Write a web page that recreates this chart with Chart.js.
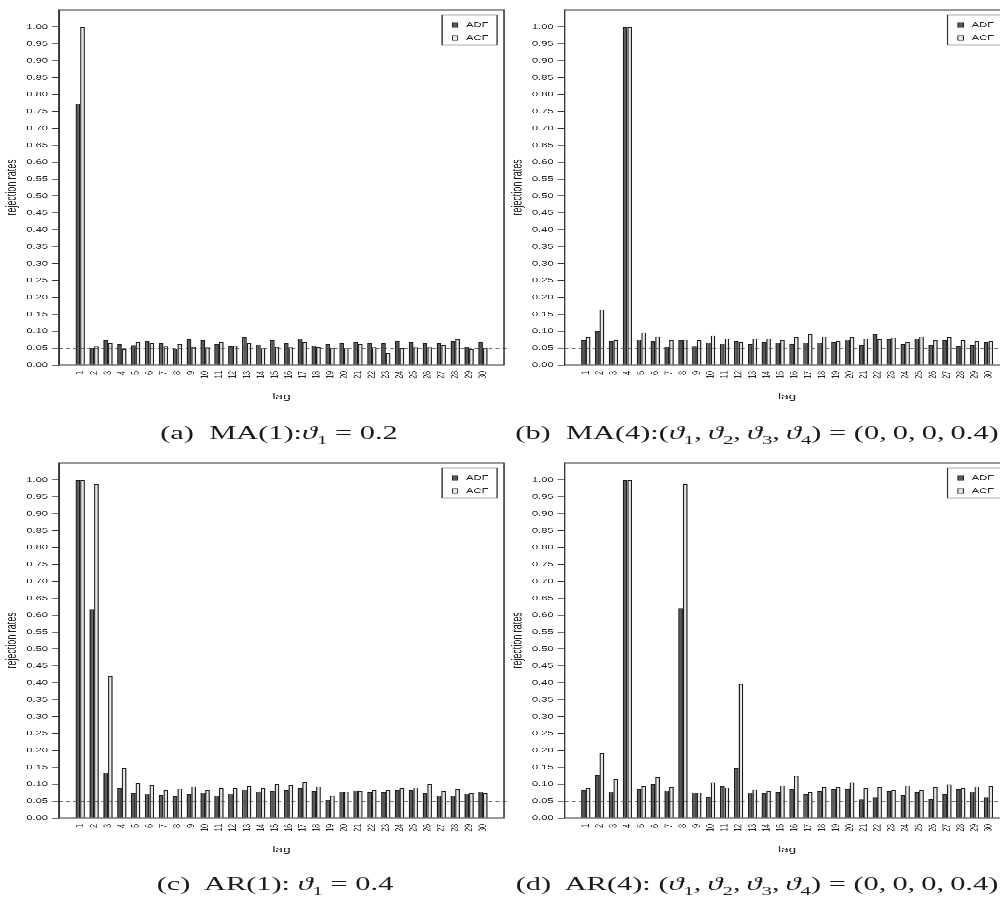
<!DOCTYPE html>
<html><head><meta charset="utf-8">
<script src="https://cdn.jsdelivr.net/npm/chart.js@4.4.0/dist/chart.umd.min.js"></script>
<style>
html,body{margin:0;padding:0;background:#fff;overflow:hidden;width:1000px;height:905px;}
#page{position:absolute;left:0;top:0;width:625px;height:905px;transform-origin:0 0;}
.cap{position:absolute;white-space:nowrap;font-family:"Liberation Serif","DejaVu Serif",serif;font-size:19px;line-height:22px;color:#1a1a1a;transform:translateX(-50%);}
.cap sub{font-size:13px;line-height:0;}
canvas{position:absolute;}
</style></head><body>
<div id="page"></div>
<script>
// ---- data ----
const lags = [1,2,3,4,5,6,7,8,9,10,11,12,13,14,15,16,17,18,19,20,21,22,23,24,25,26,27,28,29,30];
const yTicks = [0,0.05,0.10,0.15,0.20,0.25,0.30,0.35,0.40,0.45,0.50,0.55,0.60,0.65,0.70,0.75,0.80,0.85,0.90,0.95,1.00];
const seriesNames = ['ADF','ACF'];
const refLevel = 0.05;

const ma1Adf = [0.773,0.051,0.073,0.062,0.058,0.070,0.065,0.048,0.076,0.073,0.062,0.056,0.082,0.060,0.074,0.064,0.078,0.057,0.062,0.065,0.068,0.065,0.065,0.070,0.067,0.065,0.064,0.071,0.054,0.068];
const ma1Acf = [1.000,0.055,0.064,0.047,0.068,0.064,0.055,0.062,0.054,0.052,0.067,0.057,0.065,0.049,0.054,0.052,0.068,0.053,0.051,0.049,0.062,0.052,0.036,0.050,0.052,0.052,0.059,0.076,0.047,0.051];

const ma4Adf = [0.074,0.100,0.071,1.000,0.075,0.071,0.054,0.073,0.055,0.066,0.063,0.071,0.062,0.068,0.066,0.062,0.066,0.066,0.068,0.075,0.059,0.091,0.076,0.062,0.078,0.059,0.074,0.056,0.059,0.068];
const ma4Acf = [0.083,0.164,0.073,1.000,0.096,0.084,0.073,0.075,0.073,0.087,0.078,0.068,0.078,0.078,0.073,0.082,0.092,0.084,0.070,0.083,0.078,0.077,0.081,0.068,0.084,0.074,0.082,0.073,0.071,0.071];

const ar1Adf = [1.000,0.617,0.134,0.089,0.074,0.072,0.068,0.065,0.070,0.075,0.066,0.072,0.084,0.078,0.080,0.082,0.088,0.079,0.054,0.078,0.081,0.076,0.076,0.082,0.082,0.073,0.066,0.066,0.072,0.078];
const ar1Acf = [1.000,0.988,0.420,0.148,0.104,0.098,0.082,0.087,0.093,0.083,0.088,0.088,0.095,0.089,0.101,0.098,0.106,0.093,0.066,0.078,0.079,0.083,0.082,0.088,0.090,0.100,0.079,0.086,0.074,0.074];

const ar4Adf = [0.082,0.127,0.078,1.000,0.086,0.101,0.081,0.620,0.075,0.062,0.094,0.147,0.075,0.073,0.076,0.085,0.070,0.079,0.085,0.086,0.055,0.061,0.079,0.068,0.076,0.056,0.071,0.085,0.078,0.061];
const ar4Acf = [0.089,0.192,0.115,1.000,0.095,0.121,0.092,0.988,0.075,0.105,0.090,0.397,0.084,0.079,0.096,0.125,0.077,0.091,0.091,0.105,0.089,0.092,0.082,0.096,0.082,0.092,0.099,0.088,0.093,0.094];

const captions = [
  '(a)&nbsp; MA(1):<i>ϑ</i><sub>1</sub> = 0.2',
  '(b)&nbsp; MA(4):(<i>ϑ</i><sub>1</sub>,&thinsp;<i>ϑ</i><sub>2</sub>,&thinsp;<i>ϑ</i><sub>3</sub>,&thinsp;<i>ϑ</i><sub>4</sub>) = (0,&thinsp;0,&thinsp;0,&thinsp;0.4)',
  '(c)&nbsp; AR(1): <i>ϑ</i><sub>1</sub> = 0.4',
  '(d)&nbsp; AR(4): (<i>ϑ</i><sub>1</sub>,&thinsp;<i>ϑ</i><sub>2</sub>,&thinsp;<i>ϑ</i><sub>3</sub>,&thinsp;<i>ϑ</i><sub>4</sub>) = (0,&thinsp;0,&thinsp;0,&thinsp;0.4)'
];

// ---- layout (horizontal stretch of the original figure) ----
const S = 1.6;
const page = document.getElementById('page');
page.style.transform = 'scaleX(' + S + ')';

const panels = [
  {adf: ma1Adf, acf: ma1Acf, left: 0,   top: 0,   capX: 279, capY: 422},
  {adf: ma4Adf, acf: ma4Acf, left: 505, top: 0,   capX: 757, capY: 422},
  {adf: ar1Adf, acf: ar1Acf, left: 0,   top: 453, capX: 275, capY: 873},
  {adf: ar4Adf, acf: ar4Acf, left: 505, top: 453, capX: 757, capY: 873}
];

const colors = {adf: '#595959', acf: '#e6e6e6', edge: '#1c1c1c', frame: '#333333', text: '#222222'};
const sans = '"Liberation Sans", Arial, sans-serif';
const tickFont = {family: sans, size: 7};

const framePlugin = {
  id: 'frame',
  afterDatasetsDraw(chart) {
    const ctx = chart.ctx, a = chart.chartArea;
    const y = chart.scales.y.getPixelForValue(refLevel);
    ctx.save();
    ctx.strokeStyle = '#444';
    ctx.lineWidth = 0.9;
    ctx.setLineDash([2.5, 1.9]);
    ctx.beginPath(); ctx.moveTo(a.left, y); ctx.lineTo(a.right + 4 / S, y); ctx.stroke();
    ctx.restore();
  },
  afterDraw(chart) {
    const ctx = chart.ctx, a = chart.chartArea;
    ctx.save();
    ctx.strokeStyle = colors.frame;
    ctx.lineWidth = 1;
    ctx.strokeRect(a.left, a.top, a.right - a.left, a.bottom - a.top);
    // legend box inside top-right
    const w = 55 / S, h = 30;
    const x0 = a.right - 7 / S - w, y0 = a.top + 5;
    ctx.fillStyle = '#fff';
    ctx.fillRect(x0, y0, w, h);
    ctx.lineWidth = 0.8;
    ctx.strokeRect(x0, y0, w, h);
    chart.data.datasets.forEach((ds, i) => {
      const yy = y0 + 10 + i * 13;
      ctx.fillStyle = ds.backgroundColor;
      ctx.fillRect(x0 + 10.3 / S, yy - 2.2, 5.4 / S, 4.4);
      ctx.strokeStyle = colors.edge;
      ctx.lineWidth = 0.6;
      ctx.strokeRect(x0 + 10.3 / S, yy - 2.2, 5.4 / S, 4.4);
      ctx.fillStyle = colors.text;
      ctx.font = '7px ' + sans;
      ctx.textBaseline = 'middle';
      ctx.textAlign = 'left';
      ctx.fillText(ds.label, x0 + 24 / S, yy);
    });
    ctx.restore();
  }
};

const CW = 317, CH = 410;

panels.forEach((p, idx) => {
  const c = document.createElement('canvas');
  c.width = CW; c.height = CH;
  c.style.width = CW + 'px'; c.style.height = CH + 'px';
  c.style.left = (p.left / S) + 'px'; c.style.top = p.top + 'px';
  page.appendChild(c);

  const cap = document.createElement('div');
  cap.className = 'cap';
  cap.style.left = (p.capX / S) + 'px';
  cap.style.top = p.capY + 'px';
  cap.innerHTML = captions[idx];
  page.appendChild(cap);

  new Chart(c, {
    type: 'bar',
    data: {
      datasets: [
        {label: seriesNames[0], data: lags.map((l, i) => ({x: l, y: p.adf[i]})),
         backgroundColor: colors.adf, borderColor: colors.edge, borderWidth: 0.8,
         categoryPercentage: 2/3, barPercentage: 1},
        {label: seriesNames[1], data: lags.map((l, i) => ({x: l, y: p.acf[i]})),
         backgroundColor: colors.acf, borderColor: colors.edge, borderWidth: 0.8,
         categoryPercentage: 2/3, barPercentage: 1}
      ]
    },
    options: {
      responsive: false,
      maintainAspectRatio: false,
      animation: false,
      devicePixelRatio: 3,
      layout: {padding: {top: 10, right: CW - 504 / S, bottom: 0, left: 0}},
      plugins: {legend: {display: false}, tooltip: {enabled: false}},
      scales: {
        x: {
          type: 'linear', min: -0.52, max: 31.52, offset: false,
          afterBuildTicks: s => { s.ticks = lags.map(v => ({value: v})); },
          afterFit: s => { s.height = CH - 365; },
          grid: {display: false, drawTicks: false},
          border: {display: false},
          ticks: {autoSkip: false, minRotation: 90, maxRotation: 90, padding: 6,
                  font: tickFont, color: colors.text, callback: v => String(v)},
          title: {display: true, text: 'lag', color: colors.text,
                  font: {family: sans, size: 8.5},
                  padding: {top: 0, bottom: 8}}
        },
        y: {
          min: 0, max: 1.05,
          afterBuildTicks: s => { s.ticks = yTicks.map(v => ({value: v})); },
          afterFit: s => { s.width = 59 / S; },
          grid: {display: true, drawOnChartArea: false, drawTicks: true, tickLength: 7 / S,
                 color: colors.frame, lineWidth: 0.8},
          border: {display: false},
          ticks: {padding: 4 / S, font: tickFont, color: colors.text, callback: v => v.toFixed(2)},
          title: {display: true, text: 'rejection rates', color: colors.text,
                  font: {family: sans, size: 9},
                  padding: {top: 2, bottom: 0}}
        }
      }
    },
    plugins: [framePlugin]
  });
});
</script>
</body></html>
